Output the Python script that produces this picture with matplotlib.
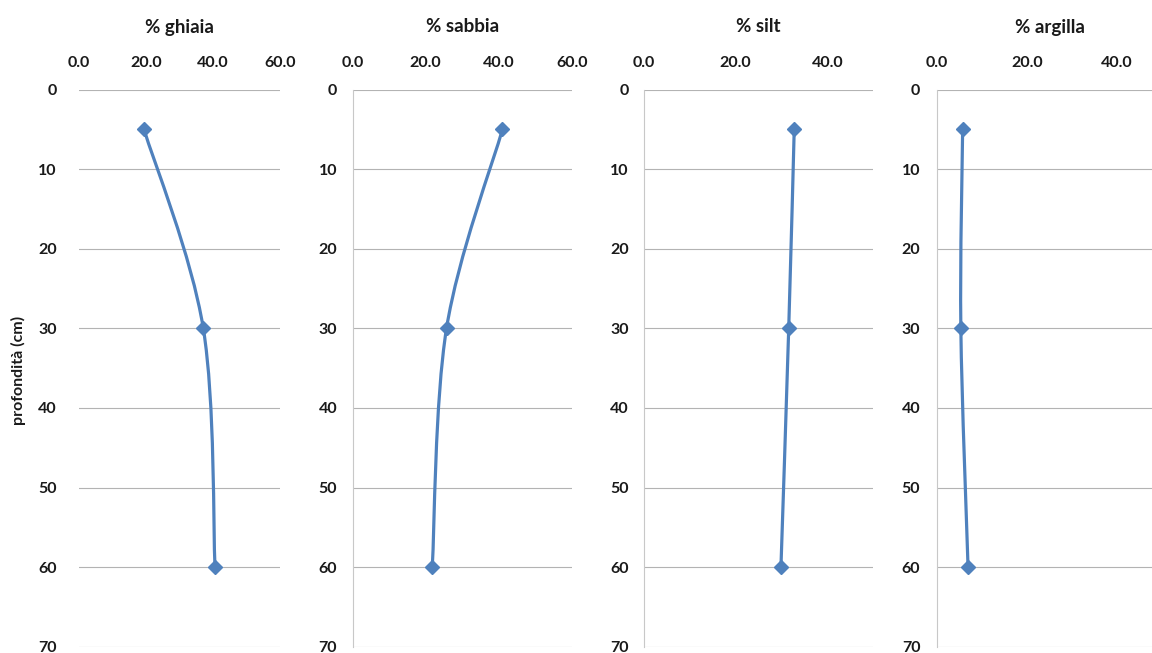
import numpy as np
import matplotlib
matplotlib.use('Agg')
import matplotlib.pyplot as plt
from matplotlib.path import Path
from matplotlib.patches import PathPatch
from matplotlib.ticker import FormatStrFormatter

# profondità dei campioni (cm)
depth = [5, 30, 60]

# granulometria (%)
ghiaia = [19.4, 37.1, 40.6]
sabbia = [41.0, 25.7, 21.8]
silt = [32.8, 31.6, 29.9]
argilla = [5.7, 5.3, 6.9]

titles = ['% ghiaia', '% sabbia', '% silt', '% argilla']
series = [ghiaia, sabbia, silt, argilla]
x_max = [60, 60, 50, 50]
y_ticks = [0, 10, 20, 30, 40, 50, 60, 70]

blue = '#4f81bd'
plt.rcParams['font.family'] = ['Lato', 'DejaVu Sans']
plt.rcParams['font.weight'] = 'bold'


def smooth_path(xs, ys):
    # curva di Bezier tipo Excel (linea smussata)
    pts = [np.array(p, dtype=float) for p in zip(xs, ys)]
    verts = [pts[0]]
    codes = [Path.MOVETO]
    for i in range(len(pts) - 1):
        p0 = pts[i - 1] if i > 0 else pts[i]
        p1 = pts[i]
        p2 = pts[i + 1]
        p3 = pts[i + 2] if i + 2 < len(pts) else p2
        verts += [p1 + (p2 - p0) / 6, p2 - (p3 - p1) / 6, p2]
        codes += [Path.CURVE4] * 3
    return Path(verts, codes)


W, H = 1152, 653
fig = plt.figure(figsize=(W / 100, H / 100), dpi=100)

# posizioni in pixel: sinistra, destra
boxes = [(79, 280), (352.5, 572), (644, 873), (937, 1162)]
top, bottom = 89.5, 646.7
ypad = [16, 11, 11, 12]

for k in range(4):
    l, r = boxes[k]
    ax = fig.add_axes([l / W, 1 - bottom / H, (r - l) / W, (bottom - top) / H])
    ax.set_xlim(0, x_max[k])
    ax.set_ylim(70, 0)
    ax.set_yticks(y_ticks)
    ax.set_xticks(np.arange(0, x_max[k] + 0.1, 20))
    ax.xaxis.set_major_formatter(FormatStrFormatter('%.1f'))
    ax.xaxis.tick_top()
    ax.tick_params(axis='x', length=0, pad=14, labelsize=11.5, colors='#1a1a1a')
    ax.tick_params(axis='y', length=0, pad=ypad[k], labelsize=11.5, colors='#1a1a1a')
    for lab in ax.get_xticklabels() + ax.get_yticklabels():
        lab.set_fontweight('bold')
    ax.grid(axis='y', color='#b3b3b3', linewidth=0.8)
    ax.set_axisbelow(True)
    for s in ['top', 'right', 'bottom']:
        ax.spines[s].set_visible(False)
    if k == 0:
        ax.spines['left'].set_visible(False)
    else:
        ax.spines['left'].set_color('#c8c8c8')
        ax.spines['left'].set_linewidth(0.8)

    ax.add_patch(PathPatch(smooth_path(series[k], depth), fill=False,
                           edgecolor=blue, linewidth=2.3, transform=ax.transData))
    ax.plot(series[k], depth, linestyle='none', marker='D', markersize=7,
            color=blue, clip_on=False)

    ax.text(0.5, 1 + 62.5 / (bottom - top), titles[k], transform=ax.transAxes,
            ha='center', va='center', fontsize=13.5, fontweight='bold', color='#1a1a1a')

fig.text(18 / W, 1 - 370 / H, 'profondità (cm)', rotation=90, ha='center', va='center',
         fontsize=11.5, fontweight='bold', color='#1a1a1a')

fig.savefig('out.png', dpi=100)
